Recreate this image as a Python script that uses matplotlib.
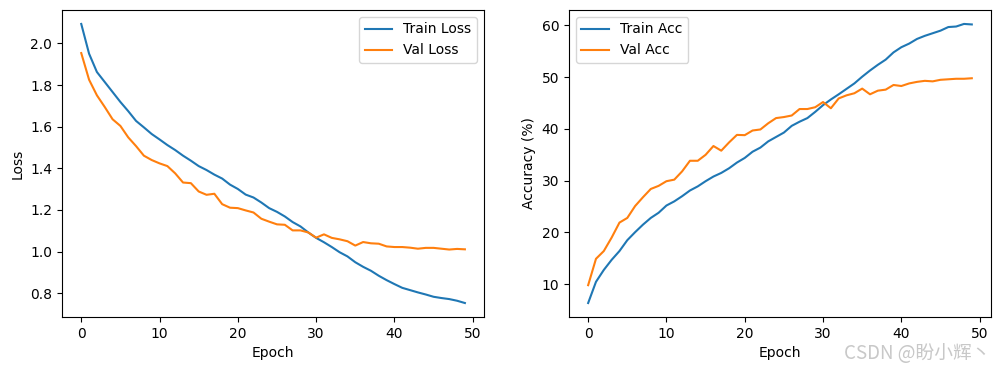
import matplotlib
matplotlib.use("Agg")
import matplotlib.pyplot as plt
import numpy as np

epochs = list(range(50))

train_loss = [2.094, 1.951, 1.863, 1.815, 1.767, 1.719, 1.675, 1.628, 1.597, 1.565,
              1.539, 1.512, 1.488, 1.461, 1.437, 1.411, 1.392, 1.370, 1.351, 1.322,
              1.301, 1.274, 1.260, 1.236, 1.209, 1.191, 1.169, 1.142, 1.121, 1.092,
              1.066, 1.045, 1.022, 0.997, 0.977, 0.949, 0.927, 0.908, 0.884, 0.863,
              0.844, 0.826, 0.815, 0.804, 0.794, 0.783, 0.777, 0.772, 0.764, 0.753]
val_loss = [1.954, 1.826, 1.751, 1.695, 1.636, 1.604, 1.549, 1.507, 1.461, 1.440,
            1.424, 1.411, 1.376, 1.332, 1.329, 1.289, 1.273, 1.278, 1.228, 1.211,
            1.209, 1.198, 1.188, 1.158, 1.144, 1.131, 1.129, 1.102, 1.102, 1.092,
            1.067, 1.083, 1.066, 1.059, 1.050, 1.029, 1.046, 1.040, 1.038, 1.025,
            1.022, 1.022, 1.019, 1.014, 1.018, 1.018, 1.014, 1.010, 1.013, 1.011]
train_acc = [6.35, 10.45, 12.75, 14.7, 16.4, 18.5, 20.05, 21.5, 22.8, 23.8,
             25.2, 26.0, 27.0, 28.1, 28.9, 29.9, 30.8, 31.5, 32.4, 33.5,
             34.4, 35.6, 36.4, 37.6, 38.45, 39.3, 40.6, 41.4, 42.1, 43.3,
             44.6, 45.7, 46.7, 47.75, 48.8, 50.1, 51.3, 52.4, 53.4, 54.8,
             55.8, 56.5, 57.4, 58.0, 58.5, 59.0, 59.7, 59.8, 60.3, 60.2]
val_acc = [9.8, 14.9, 16.4, 19.0, 21.9, 22.8, 25.1, 26.8, 28.4, 29.0,
           29.9, 30.2, 31.8, 33.85, 33.85, 35.0, 36.7, 35.8, 37.4, 38.85,
           38.8, 39.7, 39.9, 41.1, 42.1, 42.3, 42.6, 43.85, 43.85, 44.2,
           45.2, 44.0, 45.9, 46.5, 46.9, 47.8, 46.7, 47.4, 47.6, 48.5,
           48.3, 48.8, 49.1, 49.3, 49.2, 49.5, 49.6, 49.7, 49.7, 49.8]

fig = plt.figure(figsize=(10.01, 3.71), dpi=100)
ax1 = fig.add_axes([0.062, 0.1456, 0.4216, 0.8275])
ax2 = fig.add_axes([0.5684, 0.1456, 0.4216, 0.8275])

ax1.plot(epochs, train_loss, label="Train Loss")
ax1.plot(epochs, val_loss, label="Val Loss")
ax1.set_xlabel("Epoch")
ax1.set_ylabel("Loss")
ax1.legend(loc="upper right")

ax2.plot(epochs, train_acc, label="Train Acc")
ax2.plot(epochs, val_acc, label="Val Acc")
ax2.set_xlabel("Epoch")
ax2.set_ylabel("Accuracy (%)")
ax2.legend(loc="upper left")

fig.text(0.990, 0.048, "CSDN @盼小辉丶", ha="right", va="center", fontsize=13.5,
         color="#c8c8c8", family=["Noto Sans CJK SC", "DejaVu Sans"])

fig.savefig("out.png", dpi=100)
